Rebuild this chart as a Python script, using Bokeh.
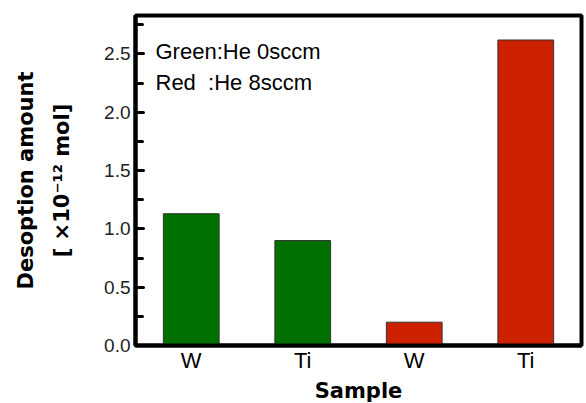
from bokeh.plotting import figure
from bokeh.models import (Range1d, FixedTicker, NumeralTickFormatter,
                          Label, ColumnDataSource)
from bokeh.embed import file_html
from bokeh.resources import INLINE

# ---- data ----
samples = ["W", "Ti", "W", "Ti"]
he_flow_sccm = [0, 0, 8, 8]
desorption = [1.13, 0.90, 0.20, 2.62]
bar_colors = ["#007000", "#007000", "#cc2000", "#cc2000"]
y_ticks = [0.0, 0.5, 1.0, 1.5, 2.0, 2.5]
y_minor = [0.25, 0.75, 1.25, 1.75, 2.25, 2.75]
legend_lines = ["Green:He 0sccm", "Red  :He 8sccm"]
y_title_lines = ["Desoption amount", "[ ×10⁻¹² mol]"]
x_title = "Sample"

positions = list(range(1, len(samples) + 1))

FONT = "Liberation Sans"
BOLD_FONT = "DejaVu Sans"

p = figure(x_range=Range1d(0.5, len(samples) + 0.5),
           y_range=Range1d(0, 2.83),
           frame_width=446, frame_height=330,
           min_border_left=135, min_border_right=5,
           min_border_top=15, min_border_bottom=58,
           output_backend="svg", toolbar_location=None,
           background_fill_color="white", border_fill_color="white")

src = ColumnDataSource(dict(x=positions, top=desorption, color=bar_colors))
p.vbar(x="x", top="top", bottom=0, width=0.5, source=src,
       fill_color="color", line_color="#333333", line_width=1)

p.xgrid.grid_line_color = None
p.ygrid.grid_line_color = None
p.outline_line_color = "black"
p.outline_line_width = 4

# y axis
ya = p.yaxis[0]
ya.ticker = FixedTicker(ticks=y_ticks, minor_ticks=y_minor)
ya.formatter = NumeralTickFormatter(format="0.0")
ya.axis_line_width = 4
ya.axis_line_color = "black"
ya.major_tick_in = 8
ya.major_tick_out = 0
ya.minor_tick_in = 7
ya.minor_tick_out = 0
ya.major_tick_line_width = 3
ya.minor_tick_line_width = 3
ya.major_tick_line_cap = "round"
ya.minor_tick_line_cap = "round"
ya.major_label_text_font = FONT
ya.major_label_text_font_size = "19px"
ya.major_label_text_color = "#222222"
ya.major_label_standoff = 5
ya.axis_label = "\n".join(y_title_lines)
ya.axis_label_text_font = BOLD_FONT
ya.axis_label_text_font_size = "21px"
ya.axis_label_text_font_style = "bold"
ya.axis_label_text_color = "black"
ya.axis_label_text_line_height = 1.52
ya.axis_label_standoff = 27

# x axis
xa = p.xaxis[0]
xa.ticker = FixedTicker(ticks=positions, minor_ticks=[])
xa.major_label_overrides = {pos: s for pos, s in zip(positions, samples)}
xa.axis_line_width = 4
xa.axis_line_color = "black"
xa.major_tick_line_color = None
xa.minor_tick_line_color = None
xa.major_label_text_font = FONT
xa.major_label_text_font_size = "22px"
xa.major_label_text_color = "black"
xa.major_label_standoff = -4
xa.axis_label = x_title
xa.axis_label_text_font = BOLD_FONT
xa.axis_label_text_font_size = "21px"
xa.axis_label_text_font_style = "bold"
xa.axis_label_text_color = "black"
xa.axis_label_standoff = 3

# note lines inside plot
for i, t in enumerate(legend_lines):
    p.add_layout(Label(x=20, y=294 - 31 * i, x_units="screen", y_units="screen",
                       text=t.replace("  ", " \u00a0"), text_align="left",
                       text_baseline="alphabetic",
                       text_font=FONT, text_font_size="22px",
                       text_color="black"))

open("out.html", "w").write(file_html(p, INLINE))
